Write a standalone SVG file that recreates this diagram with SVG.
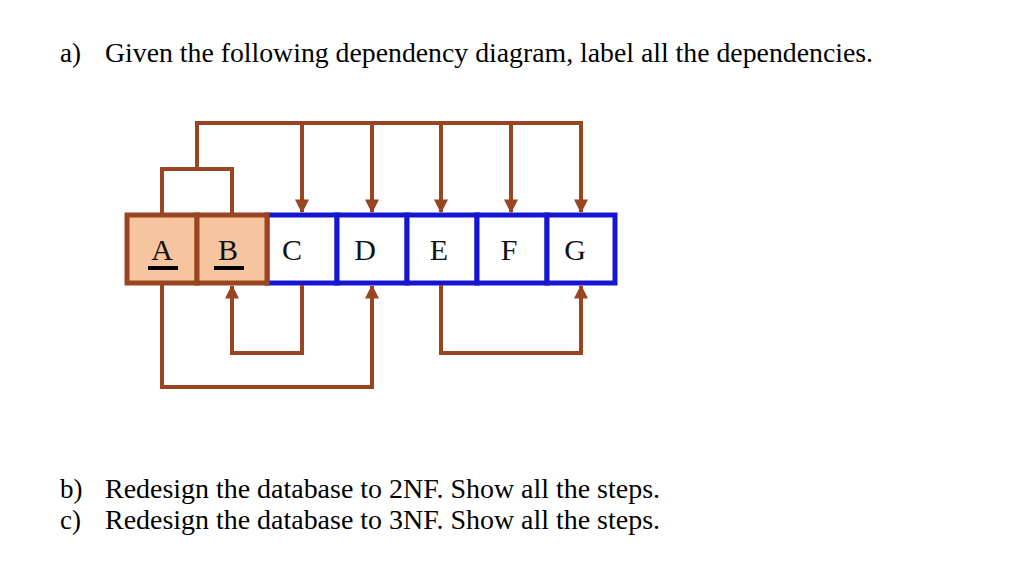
<svg xmlns="http://www.w3.org/2000/svg" width="1024" height="565" viewBox="0 0 1024 565">
<defs>
<style>
.t{font-family:"Liberation Serif",serif;font-size:27px;fill:#000}
.c{font-family:"Liberation Serif",serif;font-size:30px;fill:#111;text-anchor:middle}
.w{fill:none;stroke:#9a4522;stroke-width:4}
.k{fill:#f6c49e;stroke:#9a4522;stroke-width:5}
.n{fill:#fff;stroke:#1616d0;stroke-width:5}
</style>
<marker id="ar" viewBox="0 0 10 10" refX="9" refY="5" markerWidth="3.5" markerHeight="3.5" orient="auto"><path d="M0,0L10,5L0,10z" fill="#9a4522"/></marker>
</defs>
<rect width="1024" height="565" fill="#fff"/>
<text class="t" x="60" y="62">a)</text><text class="t" x="105" y="62" textLength="768" lengthAdjust="spacingAndGlyphs">Given the following dependency diagram, label all the dependencies.</text>
<text class="t" x="60" y="498">b)</text><text class="t" x="105" y="498" textLength="555" lengthAdjust="spacingAndGlyphs">Redesign the database to 2NF. Show all the steps.</text>
<text class="t" x="60" y="529">c)</text><text class="t" x="105" y="529" textLength="555" lengthAdjust="spacingAndGlyphs">Redesign the database to 3NF. Show all the steps.</text>
<g id="nodes">
<g id="C"><rect class="n" x="267" y="215" width="70" height="68"/><text class="c" x="292" y="260">C</text></g>
<g id="D"><rect class="n" x="337" y="215" width="70" height="68"/><text class="c" x="365" y="260">D</text></g>
<g id="E"><rect class="n" x="407" y="215" width="70" height="68"/><text class="c" x="439" y="260">E</text></g>
<g id="F"><rect class="n" x="477" y="215" width="70" height="68"/><text class="c" x="509" y="260">F</text></g>
<g id="G"><rect class="n" x="547" y="215" width="68" height="68"/><text class="c" x="575" y="260">G</text></g>
<g id="A"><rect class="k" x="127" y="215" width="70" height="68"/><text class="c" x="162" y="260">A</text><line x1="148" y1="268" x2="178" y2="268" stroke="#000" stroke-width="4"/></g>
<g id="B"><rect class="k" x="197" y="215" width="70" height="68"/><text class="c" x="228" y="260">B</text><line x1="214" y1="268" x2="244" y2="268" stroke="#000" stroke-width="4"/></g>
</g>
<g id="connectors">
<path class="w" d="M162,213V169H232V213M197,169V123H581"/>
<path class="w" marker-end="url(#ar)" d="M302,123V212"/>
<path class="w" marker-end="url(#ar)" d="M372,123V212"/>
<path class="w" marker-end="url(#ar)" d="M441,123V212"/>
<path class="w" marker-end="url(#ar)" d="M511,123V212"/>
<path class="w" marker-end="url(#ar)" d="M581,121V212"/>
<path class="w" marker-end="url(#ar)" d="M302,285V353H232V286"/>
<path class="w" marker-end="url(#ar)" d="M162,285V387H372V286"/>
<path class="w" marker-end="url(#ar)" d="M441,285V353H581V286"/>
</g>
</svg>
